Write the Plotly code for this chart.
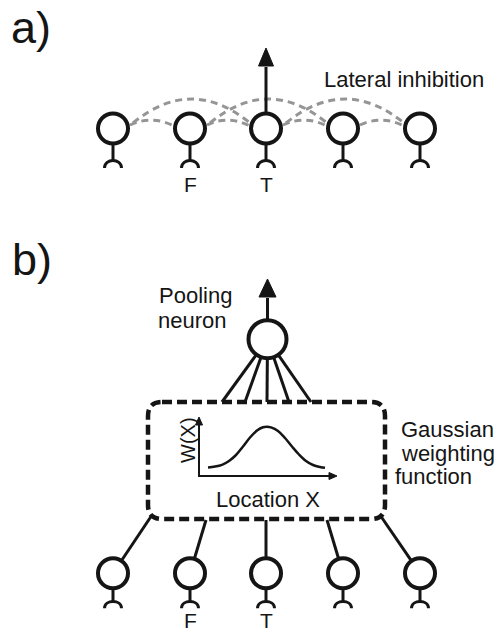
import math
import plotly.graph_objects as go

W, H = 497, 634
FONT = "Liberation Sans, Arial, Helvetica, sans-serif"
INK = "#151515"
GREY = "#959595"

# ---- diagram data -------------------------------------------------------
neuron_x = [113, 190, 266, 343, 420]          # input neurons (both panels)
neuron_labels = ["", "F", "T", "", ""]
row_y = {"a": 128.5, "b": 573.3}
stalk = {"a": (32, 39.5), "b": (28.5, 35)}     # arc top / arc end offsets
short_links = [(0, 1), (1, 2), (2, 3), (3, 4)]  # lateral inhibition, neighbours
long_links = [(0, 2), (1, 3), (2, 4)]           # lateral inhibition, 2nd neighbours

pool = (267.5, 339.2)
fan_top_x = [222, 245, 267, 289, 311]           # where fan lines meet the box
bottom_ends = [(152, 515), (206, 520), (266, 520), (327, 520), (380, 515)]

box = dict(x0=148, x1=385, y0=402, y1=519, r=14)

# Gaussian weighting function
gauss_x = [208, 215, 222, 229, 236, 243, 250, 257, 263, 267, 271, 278, 285, 292, 299, 306, 313, 320, 325]
gauss_y = [467.5, 466.6, 464.8, 461.0, 455.0, 446.5, 437.5, 430.5, 427.2, 426.7, 427.4, 431.0, 438.0, 446.5, 454.5, 461.0, 465.0, 467.0, 467.8]

R_OUT = 17
R = 15
LW = 4

shapes = []
annotations = []
traces = []


def line(x0, y0, x1, y1, width=3, color=INK, dash=None):
    ln = dict(color=color, width=width)
    if dash:
        ln["dash"] = dash
    shapes.append(dict(type="line", xref="x", yref="y", x0=x0, y0=y0, x1=x1, y1=y1, line=ln, layer="above"))


def path(d, width=3, color=INK, dash=None, fill=None):
    ln = dict(color=color, width=width)
    if dash:
        ln["dash"] = dash
    s = dict(type="path", xref="x", yref="y", path=d, line=ln, layer="above")
    if fill:
        s["fillcolor"] = fill
    shapes.append(s)


def circle(cx, cy, r, width=LW):
    shapes.append(dict(type="circle", xref="x", yref="y", x0=cx - r, x1=cx + r, y0=cy - r, y1=cy + r,
                       line=dict(color=INK, width=width), fillcolor="white", layer="above"))


def arrow_up(x, y_from, tip, base, half):
    line(x, y_from, x, base + 1, width=3)
    path(f"M {x - half},{base} L {x},{tip} L {x + half},{base} Z", width=1, fill=INK)


def text(x, y, s, size=22, angle=0):
    annotations.append(dict(x=x, y=y, xref="x", yref="y", text=s, showarrow=False, xanchor="center",
                            yanchor="middle", textangle=angle, font=dict(family=FONT, size=size, color=INK)))


def neuron(cx, cy, offs):
    top, end = offs
    line(cx, cy + R_OUT - 1, cx, cy + top + 0.5, width=3)
    path(f"M {cx - 8.5},{cy + end} C {cx - 8.5},{cy + top - 2.5} {cx + 8.5},{cy + top - 2.5} {cx + 8.5},{cy + end}",
         width=3)
    circle(cx, cy, R)


# ---- panel a ------------------------------------------------------------
ya = row_y["a"]
for i, j in long_links:
    x0, x1 = neuron_x[i] + 20, neuron_x[j] - 16
    xm = (x0 + x1) / 2
    path(f"M {x0},{ya - 5.5} Q {xm},{75} {x1},{ya - 5.5}", width=3, color=GREY, dash="7px,5px")
for i, j in short_links:
    x0, x1 = neuron_x[i] + 17, neuron_x[j] - 17
    xm = (x0 + x1) / 2
    path(f"M {x0},{ya - 3.5} Q {xm},{115} {x1},{ya - 3}", width=3, color=GREY, dash="7px,5px")

arrow_up(neuron_x[2], ya - R_OUT + 1, 48, 66, 7.5)
for x, lab in zip(neuron_x, neuron_labels):
    neuron(x, ya, stalk["a"])
    if lab:
        text(x + 0.5, 184.5, lab, size=21)

text(31, 27, "a)", size=45)
text(404, 79.5, "Lateral inhibition")

# ---- panel b ------------------------------------------------------------
text(31.5, 259, "b)", size=45)

# dashed rounded box
b = box
r = b["r"]
d = (f"M {b['x0'] + r},{b['y0']} L {b['x1'] - r},{b['y0']} Q {b['x1']},{b['y0']} {b['x1']},{b['y0'] + r} "
     f"L {b['x1']},{b['y1'] - r} Q {b['x1']},{b['y1']} {b['x1'] - r},{b['y1']} "
     f"L {b['x0'] + r},{b['y1']} Q {b['x0']},{b['y1']} {b['x0']},{b['y1'] - r} "
     f"L {b['x0']},{b['y0'] + r} Q {b['x0']},{b['y0']} {b['x0'] + r},{b['y0']} Z")
path(d, width=4.5, dash="10px,5px")

# fan from pooling neuron to box
px, py = pool
for fx in fan_top_x:
    dx, dy = fx - px, box["y0"] - py
    L = math.hypot(dx, dy)
    line(px + dx / L * 19, py + dy / L * 19, fx, box["y0"], width=3)

arrow_up(px, py - 19, 279, 297, 8.5)
circle(px, py, 19)
text(195.5, 295, "Pooling")
text(192.5, 320, "neuron")

# connections from input neurons to box
yb = row_y["b"]
for x, (ex, ey) in zip(neuron_x, bottom_ends):
    dx, dy = ex - x, ey - yb
    L = math.hypot(dx, dy)
    line(x + dx / L * (R_OUT - 1), yb + dy / L * (R_OUT - 1), ex, ey, width=3)
for x, lab in zip(neuron_x, neuron_labels):
    neuron(x, yb, stalk["b"])
    if lab:
        text(x + 0.5, 620.5, lab, size=21)

# inset axes
ax_x, ax_y = 199, 476
line(ax_x, ax_y, ax_x, 424, width=2)
path(f"M {ax_x - 3.5},{425} L {ax_x},{417} L {ax_x + 3.5},{425} Z", width=1, fill=INK)
line(ax_x - 1, ax_y, 330, ax_y, width=2)
path(f"M {329},{ax_y - 3.5} L {337},{ax_y} L {329},{ax_y + 3.5} Z", width=1, fill=INK)
traces.append(go.Scatter(x=gauss_x, y=gauss_y, mode="lines", line=dict(color=INK, width=2.5, shape="spline"),
                         hoverinfo="skip", showlegend=False))
text(188, 440, "W(X)", size=20, angle=-90)
text(268, 499, "Location X")

text(447, 429.5, "Gaussian")
text(447.5, 453, "weighting")
text(433, 476, "function")

fig = go.Figure(traces)
fig.update_layout(
    width=W, height=H, autosize=False,
    margin=dict(l=0, r=0, t=0, b=0),
    paper_bgcolor="white", plot_bgcolor="white",
    xaxis=dict(range=[0, W], visible=False, fixedrange=True),
    yaxis=dict(range=[H, 0], visible=False, fixedrange=True),
    shapes=shapes, annotations=annotations, showlegend=False,
)
fig.write_html("out.html", config={"displayModeBar": False},
               post_script="document.body.style.margin='0';document.body.style.padding='0';document.body.style.overflow='hidden';")
